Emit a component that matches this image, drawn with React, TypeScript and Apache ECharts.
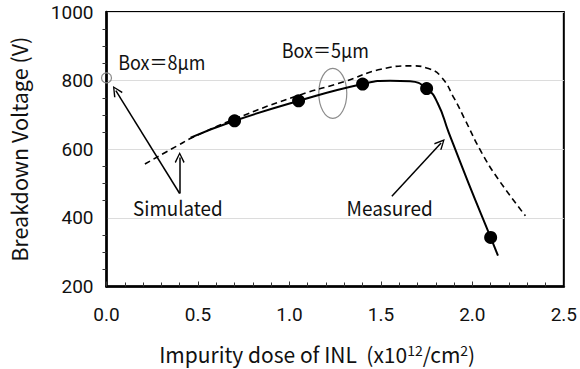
import React, { useEffect, useRef } from "react";
import * as echarts from "echarts";

// Impurity dose of INL (x10^12/cm^2) vs. breakdown voltage (V)
const measuredPoints: number[][] = [
  [0.7, 683],
  [1.05, 741],
  [1.4, 790],
  [1.75, 777],
  [2.1, 343],
];

const measuredCurve: number[][] = [
  [0.46, 634],
  [0.7, 683],
  [1.05, 741],
  [1.4, 790],
  [1.55, 800],
  [1.66, 798],
  [1.75, 777],
  [1.81, 735],
  [1.87, 650],
  [1.98, 500],
  [2.1, 343],
  [2.14, 290],
];

const simulatedCurve: number[][] = [
  [0.21, 557],
  [0.39, 611],
  [0.47, 634],
  [0.7, 688],
  [1.05, 757],
  [1.3, 797],
  [1.5, 833],
  [1.67, 843],
  [1.76, 835],
  [1.83, 811],
  [1.9, 749],
  [1.96, 686],
  [2.05, 591],
  [2.14, 514],
  [2.29, 406],
];

// Box = 8 um simulated point
const box8Point: number[][] = [[0, 808]];

// annotation arrows, [tail, head] in data coordinates
const simulatedArrows: number[][][] = [
  [[0.4, 471], [0.051, 771]],
  [[0.4, 471], [0.4, 576]],
];
const measuredArrow: number[][] = [[1.56, 463], [1.829, 618]];

const xTicks = [0, 0.5, 1.0, 1.5, 2.0, 2.5];
const yTicks = [200, 400, 600, 800, 1000];

const FONT = "'Noto Sans CJK JP', 'Noto Sans', sans-serif";
const NUM_FONT = "Roboto, 'Noto Sans', sans-serif";
const CHEVRON = "path://M5,0 L10,9.2 L8.8,10 L5,2.6 L1.2,10 L0,9.2 Z";

export default function App() {
  const ref = useRef<HTMLDivElement>(null);

  useEffect(() => {
    if (!ref.current) return;
    const chart = echarts.init(ref.current, null, { renderer: "svg" });

    const arrowLine = (pair: number[][]) => [
      { coord: pair[0] },
      { coord: pair[1] },
    ];

    chart.setOption({
      animation: false,
      backgroundColor: "#fff",
      grid: {
        left: 101,
        right: 12,
        top: 12,
        bottom: 77,
        show: true,
        borderColor: "#000",
        borderWidth: 2,
        backgroundColor: "transparent",
      },
      xAxis: {
        type: "value",
        min: xTicks[0],
        max: xTicks[xTicks.length - 1],
        interval: 0.5,
        axisLine: { show: true, onZero: false, lineStyle: { color: "#000", width: 2.5 } },
        axisTick: { show: true, inside: true, length: 5, lineStyle: { color: "#333" } },
        minorTick: { show: true, splitNumber: 5, length: 4, lineStyle: { color: "#333" } },
        splitLine: { show: false },
        axisLabel: {
          formatter: (v: number) => v.toFixed(1),
          fontSize: 19,
          fontFamily: NUM_FONT,
          color: "#111",
          margin: 18,
        },
        name: "Impurity dose of INL  (x10{sup|12}/cm{sup|2})",
        nameLocation: "middle",
        nameGap: 56,
        nameTextStyle: {
          fontSize: 21,
          fontFamily: FONT,
          color: "#111",
          padding: [0, 36, 0, 0],
          rich: {
            sup: { fontSize: 14, fontFamily: FONT, color: "#111", verticalAlign: "top", padding: [0, 0, 8, 0] },
          },
        },
      },
      yAxis: {
        type: "value",
        min: yTicks[0],
        max: yTicks[yTicks.length - 1],
        interval: 200,
        axisLine: { show: true, onZero: false, lineStyle: { color: "#000", width: 2.5 } },
        axisTick: { show: false },
        minorTick: { show: true, splitNumber: 4, length: 4, lineStyle: { color: "#333" } },
        splitLine: { show: true, lineStyle: { color: "#dcdcdc", width: 1 } },
        axisLabel: {
          formatter: (v: number) => String(v),
          fontSize: 19,
          fontFamily: NUM_FONT,
          color: "#111",
          margin: 13,
        },
        name: "Breakdown Voltage (V)",
        nameLocation: "middle",
        nameRotate: 90,
        nameGap: 77,
        nameTextStyle: { fontSize: 21.5, fontFamily: FONT, color: "#111" },
      },
      series: [
        {
          name: "Simulated",
          type: "line",
          data: simulatedCurve,
          smooth: 0.5,
          showSymbol: false,
          lineStyle: { color: "#000", width: 1.6, type: [6, 4] },
          z: 3,
        },
        {
          name: "Measured curve",
          type: "line",
          data: measuredCurve,
          smooth: 0.5,
          showSymbol: false,
          lineStyle: { color: "#000", width: 2 },
          z: 4,
        },
        {
          name: "Measured",
          type: "scatter",
          data: measuredPoints,
          symbol: "circle",
          symbolSize: 13,
          itemStyle: { color: "#000", opacity: 1 },
          z: 5,
        },
        {
          name: "Box 8um",
          type: "scatter",
          data: box8Point,
          clip: false,
          symbol: "circle",
          symbolSize: 10,
          itemStyle: { color: "rgba(255,255,255,0)", borderColor: "#8a8a8a", borderWidth: 1.2, opacity: 1 },
          z: 6,
          markLine: {
            silent: true,
            symbol: ["none", CHEVRON],
            symbolSize: [10, 11],
            label: { show: false },
            lineStyle: { color: "#000", width: 1.5, type: "solid" },
            data: [
              arrowLine(simulatedArrows[0]),
              arrowLine(simulatedArrows[1]),
              arrowLine(measuredArrow),
            ],
          },
        },
      ],
    });

    const px = (p: number[]) => chart.convertToPixel({ gridIndex: 0 }, p) as number[];
    const textAt = (p: number[], text: string, sx: number) => {
      const [x, y] = px(p);
      return {
        type: "text",
        x,
        y,
        scaleX: sx,
        z: 10,
        style: {
          text,
          fontSize: 20,
          fontFamily: FONT,
          fill: "#111",
          align: "left",
          verticalAlign: "middle",
        },
      };
    };
    const [ex, ey] = px([1.237, 763]);

    chart.setOption({
      graphic: [
        {
          type: "ellipse",
          shape: { cx: ex, cy: ey, rx: 14, ry: 25 },
          style: { fill: "none", stroke: "#8c8c8c", lineWidth: 1.2 },
          z: 1,
        },
        textAt([0.064, 857], "Box＝8μm", 0.9),
        textAt([0.958, 891], "Box＝5μm", 0.9),
        textAt([0.145, 431], "Simulated", 0.94),
        textAt([1.312, 431], "Measured", 0.95),
      ],
    });

    return () => chart.dispose();
  }, []);

  return <div ref={ref} style={{ width: 580, height: 369, position: "absolute", left: 0, top: 0 }} />;
}
